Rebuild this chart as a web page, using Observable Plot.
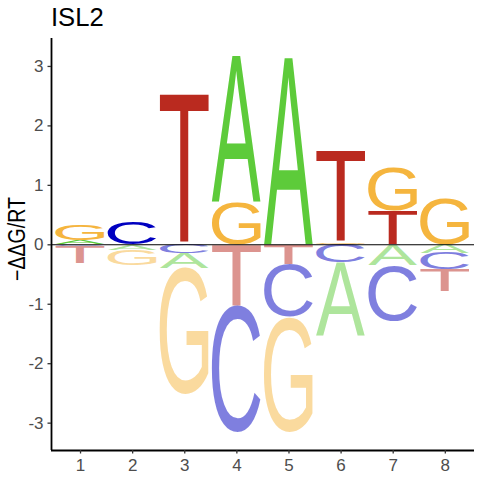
<!DOCTYPE html>
<html>
<head>
<meta charset="utf-8">
<script src="https://cdn.jsdelivr.net/npm/d3@7"></script>
<script src="https://cdn.jsdelivr.net/npm/@observablehq/plot@0.6"></script>
<style>
  body { margin: 0; background: #ffffff; }
  #wrap { position: relative; width: 480px; height: 480px; font-family: "Liberation Sans", Arial, sans-serif; }
  #title { position: absolute; left: 51px; top: 5px; font-size: 25.6px; line-height: 1; color: #000; }
  #wrap svg { position: absolute; left: 0; top: 0; }
  g[aria-label="x-axis tick label"], g[aria-label="y-axis tick label"] { fill: #4D4D4D; }
  g[aria-label="x-axis tick"], g[aria-label="y-axis tick"] { stroke: #333333; }
</style>
</head>
<body>
<div id="wrap"><div id="title">ISL2</div></div>
<script>
// ---- data (−ΔΔG/RT per base and position) ----
const positions = [1, 2, 3, 4, 5, 6, 7, 8];
const bases = ["A", "C", "G", "T"];
const valA = [0.07, -0.09, -0.25, 2.45, 3.14, -1.22, -0.35, -0.14];
const valC = [-0.03, 0.37, -0.15, -2.13, -0.89, -0.31, -0.94, -0.28];
const valG = [0.27, -0.26, -2.12, 0.71, -1.93, 0.03, 0.74, 0.78];
const valT = [-0.29, 0, 2.52, -1.03, -0.33, 1.52, 0.56, -0.37];
const baseColors = ["#5DCB3A", "#0000C0", "#F5B53E", "#BA2A1F"];
const yTicks = [-3, -2, -1, 0, 1, 2, 3];
const xTickLabels = ["1", "2", "3", "4", "5", "6", "7", "8"];
const titleText = "ISL2";
const yLabel = "\u2212\u0394\u0394G/RT";

const series = [valA, valC, valG, valT];
const colorOf = Object.fromEntries(bases.map((b, j) => [b, baseColors[j]]));

// stack letters: positive ascending from zero upwards, negative ascending from zero downwards
const rows = [];
positions.forEach((p, i) => {
  const vals = bases.map((b, j) => ({base: b, v: series[j][i]})).filter(d => d.v !== 0);
  const pos = vals.filter(d => d.v > 0).sort((a, b) => a.v - b.v);
  const neg = vals.filter(d => d.v < 0).sort((a, b) => b.v - a.v);
  let y = 0;
  pos.forEach(d => { rows.push({pos: p, base: d.base, y1: y, y2: y + d.v, neg: false}); y += d.v; });
  y = 0;
  neg.forEach(d => { rows.push({pos: p, base: d.base, y1: y, y2: y + d.v, neg: true}); y += d.v; });
});

const xDomain = [0.443, 8.56];
const yDomain = [-3.46, 3.47];
const halfWidth = 0.47;
const FS = 100;
const letterFont = "Liberation Sans";

const plot = Plot.plot({
  width: 480,
  height: 480,
  marginTop: 38,
  marginBottom: 30,
  marginLeft: 51,
  marginRight: 6,
  style: {fontFamily: "Liberation Sans, Arial, sans-serif", background: "transparent", overflow: "visible"},
  x: {domain: xDomain},
  y: {domain: yDomain},
  marks: [
    Plot.text(rows, {
      x: d => d.pos,
      y: d => (d.y1 + d.y2) / 2,
      text: "base",
      fill: d => colorOf[d.base],
      fillOpacity: d => d.neg ? 0.5 : 1,
      fontSize: FS,
      fontFamily: letterFont,
      fontWeight: 400
    }),
    Plot.ruleY([0], {stroke: "black", strokeWidth: 1.1}),
    Plot.ruleX([xDomain[0]], {stroke: "black", strokeWidth: 1.8}),
    Plot.ruleY([yDomain[0]], {stroke: "black", strokeWidth: 1.8, x1: xDomain[0], x2: xDomain[1]}),
    Plot.axisX(positions, {tickSize: 3.5, tickPadding: 5, fontSize: 17, tickFormat: (d, i) => xTickLabels[i], label: null, strokeWidth: 1.3}),
    Plot.axisY(yTicks, {tickSize: 3.5, tickPadding: 4.5, fontSize: 17, tickFormat: d => String(d), label: null, strokeWidth: 1.3})
  ]
});

document.getElementById("wrap").appendChild(plot);
document.getElementById("title").textContent = titleText;

// glyph ink metrics
const ctx = document.createElement("canvas").getContext("2d");
ctx.font = `400 ${FS}px "${letterFont}"`;
const metrics = {};
bases.forEach(b => {
  const m = ctx.measureText(b);
  metrics[b] = {L: m.actualBoundingBoxLeft, R: m.actualBoundingBoxRight, A: m.actualBoundingBoxAscent, D: m.actualBoundingBoxDescent};
});

// stretch each letter into its stacked box using the plot's scales
const sx = plot.scale("x"), sy = plot.scale("y");
const logoGroup = Array.from(plot.querySelectorAll("g")).find(g => g.getAttribute("aria-label") === "text");
const letterEls = logoGroup ? Array.from(logoGroup.querySelectorAll("text")) : [];
letterEls.forEach((el, i) => {
  const r = rows[i];
  if (!r) return;
  const m = metrics[r.base];
  const X0 = sx.apply(r.pos - halfWidth), X1 = sx.apply(r.pos + halfWidth);
  const Yt = sy.apply(Math.max(r.y1, r.y2)), Yb = sy.apply(Math.min(r.y1, r.y2));
  const w = m.L + m.R, h = m.A + m.D;
  el.removeAttribute("x");
  el.removeAttribute("y");
  el.removeAttribute("dy");
  el.setAttribute("text-anchor", "start");
  el.setAttribute("transform", `translate(${X0},${Yt}) scale(${(X1 - X0) / w},${(Yb - Yt) / h}) translate(${m.L},${m.A})`);
});
if (logoGroup) { logoGroup.removeAttribute("transform"); logoGroup.setAttribute("text-anchor", "start"); }

// y axis title
d3.select(plot).append("text")
  .attr("transform", `translate(24.5,${(sy.apply(yDomain[0]) + sy.apply(yDomain[1])) / 2 - 5}) rotate(-90)`)
  .attr("text-anchor", "middle")
  .attr("font-size", 23)
  .attr("fill", "#000")
  .attr("textLength", 84)
  .attr("lengthAdjust", "spacingAndGlyphs")
  .text(yLabel);
</script>
</body>
</html>
